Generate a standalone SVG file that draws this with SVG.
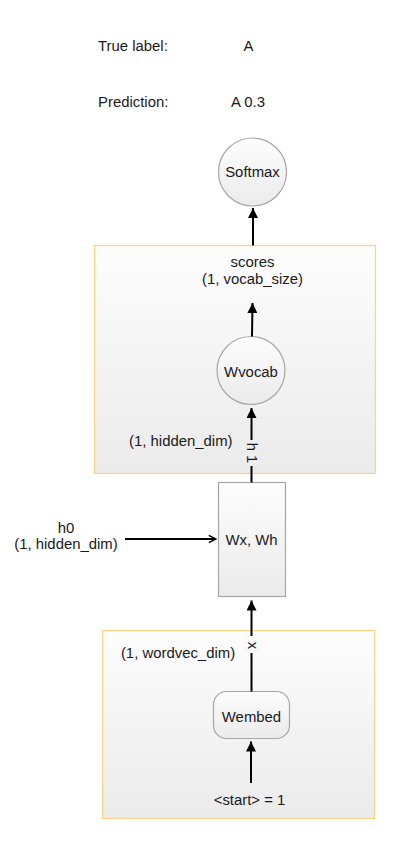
<svg xmlns="http://www.w3.org/2000/svg" width="416" height="842" viewBox="0 0 416 842">
<defs>
<linearGradient id="g" x1="0" y1="0" x2="0" y2="1">
<stop offset="0" stop-color="#fdfdfd"/>
<stop offset="1" stop-color="#ebebeb"/>
</linearGradient>
<marker id="arr" viewBox="0 0 10 10" refX="10" refY="5" markerWidth="5" markerHeight="5" orient="auto" markerUnits="strokeWidth">
<path d="M0,0 L10,5 L0,10 Z" fill="#000"/>
</marker>
<marker id="open" viewBox="0 0 10 10" refX="9" refY="5" markerWidth="4.5" markerHeight="4.5" orient="auto" markerUnits="strokeWidth">
<path d="M1,1 L9,5 L1,9" fill="none" stroke="#000" stroke-width="1.6"/>
</marker>
</defs>
<style>
text{font-family:"Liberation Sans",Arial,sans-serif;font-size:14.9px;fill:#1a1a1a}
.c{text-anchor:middle}
.grp{fill:url(#g);stroke:#fdd38a;stroke-width:1.3}
.node{fill:url(#g);stroke:#a6a6a6;stroke-width:1.2}
.edge{stroke:#000;stroke-width:2;fill:none}
</style>
<g id="header">
<text x="98" y="50.5">True label:</text>
<text class="c" x="248.5" y="50.5">A</text>
<text x="98" y="107.3">Prediction:</text>
<text class="c" x="248" y="107.3">A 0.3</text>
</g>
<g id="output-group">
<rect class="grp" x="94.5" y="245.5" width="281" height="228"/>
<text class="c" x="252.5" y="267">scores</text>
<text class="c" x="252.5" y="284">(1, vocab_size)</text>
</g>
<g id="embed-group">
<rect class="grp" x="102.5" y="630.5" width="272" height="188"/>
<text class="c" x="249.5" y="805">&lt;start&gt; = 1</text>
</g>
<g id="softmax">
<circle class="node" cx="252.5" cy="172" r="34"/>
<text class="c" x="252.5" y="177">Softmax</text>
</g>
<g id="wvocab">
<circle class="node" cx="251" cy="370.5" r="34"/>
<text class="c" x="251" y="377">Wvocab</text>
</g>
<g id="wxwh">
<rect class="node" x="218.5" y="482.5" width="67" height="114"/>
<text class="c" x="251.5" y="544.5">Wx, Wh</text>
</g>
<g id="wembed">
<rect class="node" x="213.5" y="691.5" width="76" height="47" rx="13" ry="13"/>
<text class="c" x="251.5" y="722">Wembed</text>
</g>
<g id="h0">
<text class="c" x="66" y="532.5">h0</text>
<text class="c" x="66" y="549">(1, hidden_dim)</text>
</g>
<g id="connectors">
<line class="edge" x1="253" y1="245.5" x2="253" y2="208" marker-end="url(#arr)"/>
<line class="edge" x1="252" y1="336.5" x2="252.5" y2="303" marker-end="url(#arr)"/>
<line class="edge" x1="251.5" y1="482.5" x2="251.5" y2="408" marker-end="url(#arr)"/>
<line class="edge" x1="251.5" y1="691.5" x2="251.5" y2="600.5" marker-end="url(#arr)"/>
<line class="edge" x1="251" y1="783" x2="251" y2="741.5" marker-end="url(#arr)"/>
<line class="edge" x1="125" y1="539" x2="216" y2="539" marker-end="url(#open)"/>
<rect x="243" y="440" width="17" height="26" fill="#eeeeee"/>
<text transform="translate(246.5,453) rotate(90)" class="c">h 1</text>
<text x="232.5" y="445.5" text-anchor="end">(1, hidden_dim)</text>
<rect x="243" y="636" width="17" height="17" fill="#f9f9f9"/>
<text transform="translate(247.5,645.5) rotate(90)" class="c">x</text>
<text class="c" x="178" y="658">(1, wordvec_dim)</text>
</g>
</svg>
